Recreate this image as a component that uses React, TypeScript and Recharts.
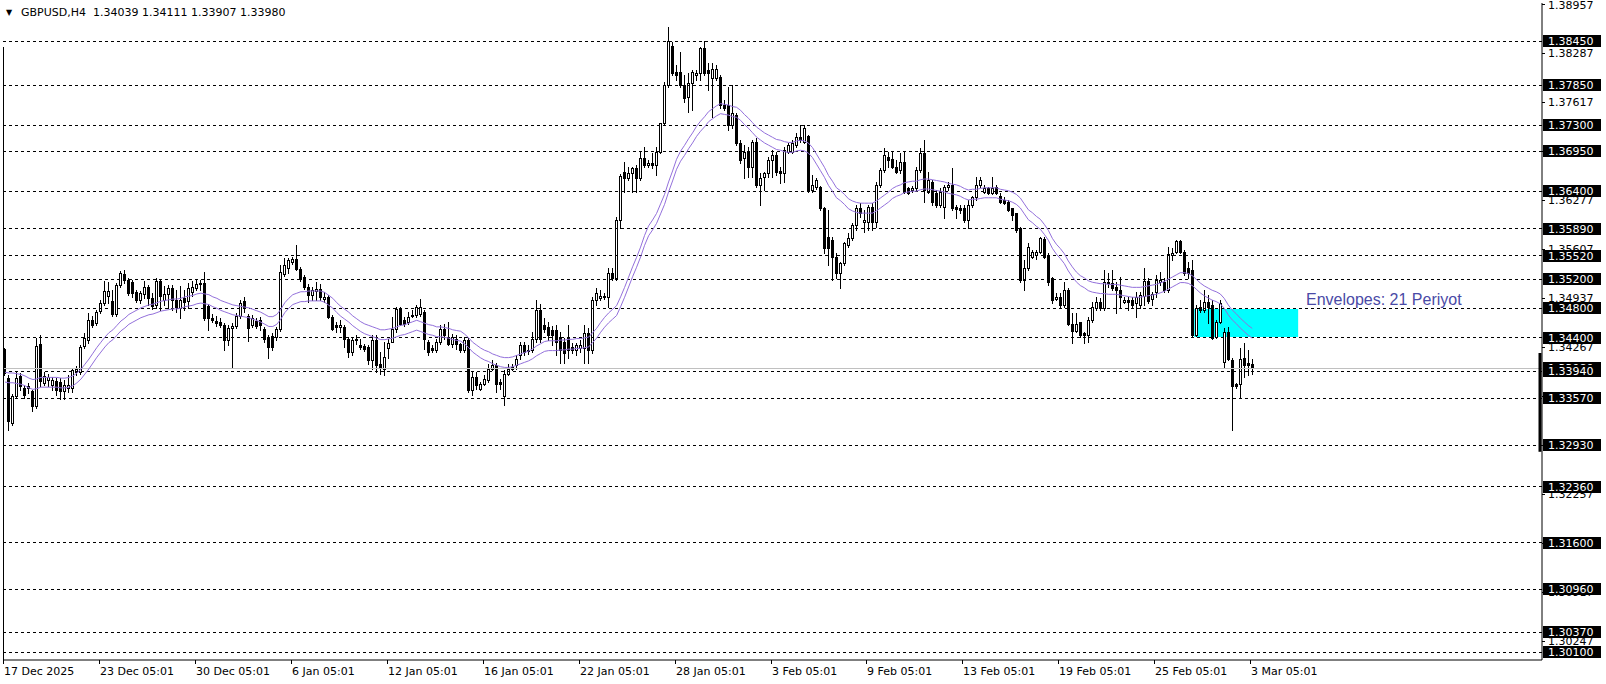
import React from 'react';
import { ComposedChart, Bar, Line, XAxis, YAxis, ReferenceLine, ReferenceArea } from 'recharts';

// ---- GBPUSD H4 candles ----
const opens = [
  1.3424,1.3385,1.3323,1.3360,1.3388,1.3371,1.3371,1.3367,1.3347,1.3431,
  1.3378,1.3382,1.3375,1.3381,1.3379,1.3367,1.3371,1.3371,1.3393,1.3393,
  1.3429,1.3437,1.3464,1.3460,1.3477,1.3487,1.3497,1.3490,1.3473,1.3512,
  1.3527,1.3519,1.3516,1.3502,1.3491,1.3500,1.3509,1.3494,1.3485,1.3517,
  1.3491,1.3500,1.3508,1.3491,1.3481,1.3494,1.3490,1.3502,1.3508,1.3515,
  1.3515,1.3483,1.3467,1.3463,1.3461,1.3457,1.3437,1.3453,1.3456,1.3470,
  1.3490,1.3470,1.3457,1.3463,1.3464,1.3452,1.3441,1.3442,1.3441,1.3452,
  1.3527,1.3535,1.3543,1.3547,1.3534,1.3523,1.3509,1.3498,1.3504,1.3506,
  1.3493,1.3496,1.3468,1.3457,1.3455,1.3455,1.3438,1.3420,1.3438,1.3430,
  1.3429,1.3427,1.3409,1.3437,1.3404,1.3397,1.3426,1.3434,1.3452,1.3479,
  1.3464,1.3461,1.3470,1.3471,1.3473,1.3475,1.3434,1.3426,1.3423,1.3434,
  1.3452,1.3441,1.3431,1.3438,1.3431,1.3423,1.3437,1.3368,1.3386,1.3370,
  1.3377,1.3382,1.3397,1.3403,1.3379,1.3360,1.3390,1.3397,1.3403,1.3416,
  1.3430,1.3423,1.3423,1.3438,1.3478,1.3457,1.3455,1.3450,1.3450,1.3441,
  1.3434,1.3441,1.3427,1.3423,1.3426,1.3426,1.3446,1.3423,1.3491,1.3494,
  1.3497,1.3496,1.3528,1.3522,1.3601,1.3666,1.3658,1.3665,1.3672,1.3658,
  1.3686,1.3676,1.3679,1.3676,1.3694,1.3733,1.3785,1.3838,1.3803,1.3803,
  1.3785,1.3769,1.3788,1.3799,1.3802,1.3836,1.3806,1.3795,1.3795,1.3796,
  1.3758,1.3758,1.3730,1.3744,1.3706,1.3686,1.3694,1.3673,1.3707,1.3649,
  1.3660,1.3665,1.3683,1.3690,1.3668,1.3665,1.3694,1.3694,1.3703,1.3714,
  1.3707,1.3716,1.3642,1.3646,1.3646,1.3617,1.3577,1.3574,1.3550,1.3528,
  1.3542,1.3566,1.3576,1.3594,1.3617,1.3598,1.3598,1.3619,1.3598,1.3649,
  1.3669,1.3687,1.3684,1.3673,1.3669,1.3680,1.3645,1.3642,1.3645,1.3669,
  1.3692,1.3639,1.3653,1.3638,1.3621,1.3619,1.3646,1.3649,1.3619,1.3617,
  1.3617,1.3601,1.3621,1.3632,1.3649,1.3639,1.3645,1.3638,1.3646,1.3634,
  1.3628,1.3626,1.3617,1.3610,1.3590,1.3519,1.3535,1.3550,1.3553,1.3557,
  1.3575,1.3553,1.3522,1.3493,1.3496,1.3485,1.3505,1.3459,1.3449,1.3461,
  1.3446,1.3443,1.3464,1.3481,1.3489,1.3481,1.3515,1.3515,1.3509,1.3505,
  1.3489,1.3491,1.3491,1.3487,1.3485,1.3497,1.3517,1.3493,1.3502,1.3516,
  1.3516,1.3505,1.3553,1.3557,1.3572,1.3557,1.3535,1.3533,1.3443,1.3482,
  1.3478,1.3489,1.3485,1.3441,1.3461,1.3407,1.3448,1.3409,1.3377,1.3377,
  1.3412,1.3405,1.34039,
];
const highs = [
  1.3426,1.3389,1.3363,1.3394,1.3392,1.3375,1.3378,1.3368,1.3439,1.3443,
  1.3393,1.3390,1.3386,1.3385,1.3385,1.3382,1.3389,1.3399,1.3401,1.3430,
  1.3446,1.3474,1.3470,1.3478,1.3491,1.3517,1.3516,1.3505,1.3515,1.3531,
  1.3533,1.3522,1.3519,1.3505,1.3504,1.3517,1.3512,1.3501,1.3522,1.3519,
  1.3510,1.3512,1.3512,1.3505,1.3510,1.3505,1.3515,1.3517,1.3520,1.3519,
  1.3530,1.3486,1.3473,1.3470,1.3467,1.3460,1.3457,1.3460,1.3474,1.3491,
  1.3496,1.3473,1.3471,1.3467,1.3468,1.3455,1.3443,1.3446,1.3455,1.3539,
  1.3549,1.3549,1.3550,1.3566,1.3537,1.3526,1.3513,1.3509,1.3516,1.3513,
  1.3502,1.3498,1.3471,1.3461,1.3464,1.3457,1.3441,1.3441,1.3443,1.3438,
  1.3431,1.3430,1.3443,1.3443,1.3420,1.3434,1.3438,1.3468,1.3482,1.3482,
  1.3468,1.3475,1.3478,1.3485,1.3493,1.3478,1.3437,1.3430,1.3438,1.3457,
  1.3459,1.3461,1.3445,1.3443,1.3433,1.3441,1.3439,1.3393,1.3393,1.3379,
  1.3389,1.3404,1.3409,1.3405,1.3383,1.3396,1.3404,1.3404,1.3416,1.3434,
  1.3434,1.3430,1.3448,1.3491,1.3486,1.3467,1.3461,1.3456,1.3457,1.3448,
  1.3439,1.3457,1.3433,1.3433,1.3437,1.3457,1.3453,1.3496,1.3508,1.3505,
  1.3501,1.3535,1.3535,1.3605,1.3663,1.3680,1.3673,1.3673,1.3676,1.3694,
  1.3701,1.3683,1.3692,1.3701,1.3734,1.3789,1.3865,1.3844,1.3812,1.3830,
  1.3799,1.3802,1.3806,1.3806,1.3837,1.3845,1.3815,1.3815,1.3812,1.3799,
  1.3765,1.3782,1.3785,1.3747,1.3710,1.3703,1.3701,1.3710,1.3713,1.3665,
  1.3666,1.3687,1.3696,1.3694,1.3673,1.3701,1.3706,1.3710,1.3720,1.3730,
  1.3730,1.3717,1.3662,1.3658,1.3647,1.3619,1.3615,1.3577,1.3556,1.3543,
  1.3571,1.3583,1.3597,1.3621,1.3624,1.3615,1.3621,1.3624,1.3653,1.3672,
  1.3699,1.3694,1.3694,1.3683,1.3692,1.3694,1.3646,1.3647,1.3673,1.3699,
  1.3710,1.3666,1.3656,1.3642,1.3645,1.3649,1.3653,1.3672,1.3621,1.3621,
  1.3621,1.3628,1.3633,1.3660,1.3660,1.3649,1.3646,1.3660,1.3649,1.3638,
  1.3632,1.3628,1.3617,1.3610,1.3591,1.3546,1.3569,1.3560,1.3560,1.3577,
  1.3577,1.3556,1.3523,1.3501,1.3501,1.3516,1.3508,1.3474,1.3474,1.3461,
  1.3448,1.3468,1.3489,1.3496,1.3494,1.3533,1.3528,1.3533,1.3516,1.3523,
  1.3496,1.3496,1.3496,1.3502,1.3502,1.3535,1.3522,1.3502,1.3526,1.3530,
  1.3522,1.3564,1.3562,1.3574,1.3574,1.3560,1.3543,1.3546,1.3485,1.3491,
  1.3505,1.3498,1.3491,1.3464,1.3491,1.3453,1.3455,1.3412,1.3378,1.3426,
  1.3433,1.3423,1.34111,
];
const lows = [
  1.3389,1.3314,1.3321,1.3359,1.3368,1.3358,1.3364,1.3340,1.3344,1.3374,
  1.3375,1.3374,1.3368,1.3362,1.3356,1.3356,1.3366,1.3366,1.3389,1.3390,
  1.3426,1.3433,1.3455,1.3457,1.3474,1.3485,1.3487,1.3470,1.3470,1.3509,
  1.3515,1.3498,1.3496,1.3489,1.3487,1.3494,1.3485,1.3479,1.3481,1.3478,
  1.3485,1.3481,1.3478,1.3475,1.3467,1.3478,1.3481,1.3497,1.3505,1.3505,
  1.3464,1.3450,1.3461,1.3456,1.3455,1.3423,1.3430,1.3400,1.3453,1.3467,
  1.3475,1.3435,1.3455,1.3453,1.3450,1.3434,1.3412,1.3423,1.3437,1.3449,
  1.3524,1.3528,1.3541,1.3533,1.3517,1.3506,1.3489,1.3491,1.3491,1.3491,
  1.3489,1.3467,1.3450,1.3448,1.3448,1.3427,1.3413,1.3416,1.3431,1.3424,
  1.3422,1.3404,1.3397,1.3393,1.3390,1.3389,1.3412,1.3434,1.3448,1.3457,
  1.3456,1.3459,1.3468,1.3468,1.3470,1.3424,1.3416,1.3420,1.3420,1.3431,
  1.3438,1.3430,1.3427,1.3424,1.3420,1.3420,1.3366,1.3362,1.3370,1.3368,
  1.3375,1.3379,1.3396,1.3366,1.3370,1.3348,1.3389,1.3396,1.3397,1.3411,
  1.3416,1.3418,1.3420,1.3434,1.3434,1.3448,1.3437,1.3430,1.3416,1.3405,
  1.3405,1.3412,1.3419,1.3416,1.3420,1.3405,1.3405,1.3419,1.3485,1.3491,
  1.3493,1.3482,1.3519,1.3519,1.3590,1.3639,1.3656,1.3639,1.3639,1.3656,
  1.3673,1.3673,1.3672,1.3662,1.3693,1.3730,1.3782,1.3799,1.3792,1.3782,
  1.3762,1.3748,1.3751,1.3792,1.3792,1.3799,1.3778,1.3742,1.3792,1.3754,
  1.3751,1.3724,1.3727,1.3703,1.3679,1.3658,1.3660,1.3660,1.3646,1.3621,
  1.3642,1.3660,1.3660,1.3662,1.3651,1.3653,1.3692,1.3692,1.3701,1.3707,
  1.3706,1.3639,1.3639,1.3643,1.3615,1.3556,1.3539,1.3519,1.3522,1.3508,
  1.3539,1.3564,1.3574,1.3587,1.3605,1.3584,1.3587,1.3587,1.3591,1.3646,
  1.3666,1.3673,1.3672,1.3665,1.3665,1.3638,1.3636,1.3639,1.3642,1.3666,
  1.3626,1.3638,1.3621,1.3619,1.3619,1.3603,1.3642,1.3615,1.3603,1.3610,
  1.3598,1.3590,1.3619,1.3628,1.3646,1.3638,1.3636,1.3636,1.3636,1.3624,
  1.3623,1.3613,1.3601,1.3584,1.3516,1.3505,1.3533,1.3549,1.3547,1.3556,
  1.3549,1.3512,1.3487,1.3491,1.3482,1.3482,1.3457,1.3433,1.3448,1.3441,
  1.3433,1.3434,1.3461,1.3478,1.3478,1.3478,1.3509,1.3505,1.3474,1.3482,
  1.3487,1.3478,1.3481,1.3468,1.3481,1.3485,1.3487,1.3485,1.3496,1.3512,
  1.3502,1.3502,1.3546,1.3556,1.3556,1.3526,1.3522,1.3442,1.3442,1.3475,
  1.3475,1.3460,1.3438,1.3439,1.3460,1.3399,1.3409,1.3314,1.3371,1.3359,
  1.3386,1.3389,1.33907,
];
const closes = [
  1.3392,1.3326,1.3360,1.3385,1.3374,1.3362,1.3374,1.3347,1.3429,1.3381,
  1.3388,1.3386,1.3382,1.3368,1.3367,1.3375,1.3375,1.3396,1.3397,1.3427,
  1.3439,1.3464,1.3457,1.3475,1.3487,1.3504,1.3504,1.3473,1.3512,1.3528,
  1.3519,1.3501,1.3501,1.3491,1.3501,1.3509,1.3494,1.3483,1.3517,1.3497,
  1.3500,1.3508,1.3491,1.3482,1.3491,1.3489,1.3508,1.3509,1.3513,1.3513,
  1.3467,1.3467,1.3464,1.3460,1.3457,1.3437,1.3453,1.3456,1.3470,1.3487,
  1.3481,1.3453,1.3467,1.3456,1.3457,1.3438,1.3427,1.3427,1.3452,1.3530,
  1.3539,1.3546,1.3547,1.3534,1.3520,1.3509,1.3498,1.3505,1.3506,1.3496,
  1.3496,1.3468,1.3452,1.3455,1.3457,1.3438,1.3420,1.3437,1.3437,1.3427,
  1.3424,1.3409,1.3437,1.3403,1.3400,1.3413,1.3433,1.3452,1.3479,1.3459,
  1.3459,1.3468,1.3471,1.3482,1.3482,1.3438,1.3420,1.3423,1.3434,1.3452,
  1.3443,1.3431,1.3441,1.3431,1.3423,1.3437,1.3368,1.3386,1.3375,1.3377,
  1.3383,1.3397,1.3403,1.3377,1.3377,1.3390,1.3397,1.3400,1.3411,1.3430,
  1.3420,1.3422,1.3438,1.3478,1.3438,1.3452,1.3443,1.3443,1.3434,1.3423,
  1.3419,1.3423,1.3423,1.3430,1.3430,1.3446,1.3423,1.3491,1.3501,1.3497,
  1.3496,1.3528,1.3522,1.3601,1.3661,1.3658,1.3665,1.3672,1.3658,1.3686,
  1.3676,1.3679,1.3676,1.3694,1.3733,1.3785,1.3845,1.3802,1.3799,1.3785,
  1.3767,1.3788,1.3803,1.3802,1.3836,1.3802,1.3802,1.3807,1.3807,1.3758,
  1.3754,1.3730,1.3747,1.3706,1.3683,1.3694,1.3673,1.3707,1.3649,1.3658,
  1.3665,1.3683,1.3690,1.3666,1.3665,1.3696,1.3703,1.3706,1.3714,1.3710,
  1.3727,1.3642,1.3649,1.3656,1.3617,1.3562,1.3562,1.3550,1.3528,1.3542,
  1.3569,1.3576,1.3594,1.3617,1.3610,1.3601,1.3619,1.3598,1.3649,1.3669,
  1.3690,1.3683,1.3673,1.3666,1.3680,1.3639,1.3638,1.3645,1.3669,1.3692,
  1.3642,1.3656,1.3626,1.3621,1.3639,1.3646,1.3649,1.3617,1.3616,1.3615,
  1.3601,1.3621,1.3632,1.3649,1.3656,1.3645,1.3638,1.3645,1.3638,1.3626,
  1.3624,1.3615,1.3608,1.3587,1.3519,1.3535,1.3564,1.3557,1.3557,1.3576,
  1.3550,1.3516,1.3491,1.3496,1.3485,1.3505,1.3459,1.3449,1.3459,1.3443,
  1.3443,1.3464,1.3482,1.3489,1.3481,1.3516,1.3516,1.3508,1.3505,1.3496,
  1.3491,1.3489,1.3485,1.3496,1.3498,1.3517,1.3490,1.3500,1.3519,1.3519,
  1.3505,1.3554,1.3556,1.3572,1.3557,1.3528,1.3528,1.3443,1.3481,1.3478,
  1.3489,1.3482,1.3439,1.3461,1.3487,1.3448,1.3411,1.3374,1.3374,1.3411,
  1.3403,1.3403,1.3398,
];
// Envelopes(21) middle line as drawn, and its deviation (0.05 %)
const envelopeMid = [
  1.3386,1.3385,1.3385,1.3384,1.3383,1.3381,1.3378,1.3376,1.3377,1.3379,
  1.3379,1.3379,1.3379,1.3379,1.3378,1.3378,1.3379,1.3381,1.3385,1.3390,
  1.3397,1.3404,1.3412,1.3420,1.3427,1.3434,1.3440,1.3444,1.3450,1.3456,
  1.3460,1.3465,1.3468,1.3471,1.3474,1.3476,1.3478,1.3479,1.3481,1.3483,
  1.3484,1.3485,1.3486,1.3486,1.3487,1.3489,1.3490,1.3491,1.3493,1.3494,
  1.3493,1.3492,1.3489,1.3487,1.3484,1.3482,1.3480,1.3478,1.3477,1.3476,
  1.3475,1.3474,1.3472,1.3470,1.3468,1.3465,1.3462,1.3462,1.3465,1.3472,
  1.3481,1.3487,1.3492,1.3494,1.3496,1.3496,1.3497,1.3497,1.3497,1.3497,
  1.3495,1.3491,1.3487,1.3481,1.3476,1.3472,1.3468,1.3463,1.3459,1.3455,
  1.3452,1.3450,1.3448,1.3446,1.3444,1.3444,1.3445,1.3446,1.3448,1.3450,
  1.3451,1.3453,1.3455,1.3457,1.3455,1.3453,1.3451,1.3450,1.3448,1.3448,
  1.3447,1.3446,1.3444,1.3443,1.3442,1.3438,1.3433,1.3427,1.3423,1.3419,
  1.3416,1.3414,1.3411,1.3409,1.3407,1.3406,1.3406,1.3407,1.3409,1.3411,
  1.3413,1.3415,1.3418,1.3422,1.3425,1.3428,1.3429,1.3429,1.3429,1.3430,
  1.3430,1.3431,1.3431,1.3432,1.3432,1.3433,1.3434,1.3440,1.3446,1.3454,
  1.3461,1.3467,1.3472,1.3477,1.3489,1.3502,1.3516,1.3530,1.3543,1.3557,
  1.3573,1.3586,1.3594,1.3603,1.3616,1.3629,1.3646,1.3661,1.3677,1.3688,
  1.3696,1.3705,1.3713,1.3722,1.3729,1.3735,1.3742,1.3746,1.3750,1.3753,
  1.3752,1.3751,1.3749,1.3748,1.3744,1.3738,1.3733,1.3727,1.3721,1.3717,
  1.3713,1.3710,1.3707,1.3704,1.3703,1.3701,1.3700,1.3700,1.3702,1.3703,
  1.3702,1.3699,1.3693,1.3684,1.3675,1.3666,1.3655,1.3647,1.3638,1.3634,
  1.3629,1.3623,1.3620,1.3618,1.3617,1.3617,1.3617,1.3617,1.3620,1.3624,
  1.3628,1.3632,1.3637,1.3640,1.3642,1.3645,1.3646,1.3647,1.3647,1.3649,
  1.3650,1.3650,1.3649,1.3648,1.3647,1.3646,1.3644,1.3643,1.3642,1.3640,
  1.3637,1.3635,1.3636,1.3636,1.3637,1.3638,1.3638,1.3638,1.3638,1.3636,
  1.3635,1.3634,1.3632,1.3629,1.3624,1.3616,1.3608,1.3604,1.3599,1.3595,
  1.3588,1.3580,1.3569,1.3561,1.3555,1.3548,1.3538,1.3530,1.3523,1.3518,
  1.3515,1.3511,1.3509,1.3508,1.3507,1.3507,1.3506,1.3506,1.3506,1.3505,
  1.3504,1.3503,1.3502,1.3502,1.3502,1.3503,1.3504,1.3505,1.3506,1.3508,
  1.3510,1.3513,1.3516,1.3519,1.3522,1.3522,1.3521,1.3518,1.3513,1.3508,
  1.3504,1.3501,1.3498,1.3496,1.3493,1.3487,1.3478,1.3471,1.3466,1.3460,
  1.3455,1.3450,1.3446,
];
const ENVELOPE_DEVIATION = 0.0005;

// time axis
const TOTAL_SLOTS = 385; // visible bar slots incl. empty right margin
const timeTickIndex = [0, 24, 48, 72, 96, 120, 144, 168, 192, 216, 240, 264, 288, 312];
const timeTickLabels = [
  '17 Dec 2025', '23 Dec 05:01', '30 Dec 05:01', '6 Jan 05:01', '12 Jan 05:01', '16 Jan 05:01',
  '22 Jan 05:01', '28 Jan 05:01', '3 Feb 05:01', '9 Feb 05:01', '13 Feb 05:01', '19 Feb 05:01',
  '25 Feb 05:01', '3 Mar 05:01',
];

// price axis
const priceScaleTicks = [
  1.38957, 1.38287, 1.37617, 1.36947, 1.36277, 1.35607, 1.34937,
  1.34267, 1.33597, 1.32927, 1.32257, 1.31587, 1.30917, 1.30247,
];
const levelPrices = [
  1.3845, 1.3785, 1.373, 1.3695, 1.364, 1.3589, 1.3552, 1.352, 1.348,
  1.344, 1.3394, 1.3357, 1.3293, 1.3236, 1.316, 1.3096, 1.3037, 1.301,
];
const BID_PRICE = 1.3398;
const PRICE_DOMAIN: [number, number] = [1.29994, 1.38974];
const zoneTop = 1.3479;
const zoneBottom = 1.3441;
const zoneFromBar = 298;
const zoneToBar = 323;
const axisMarkTop = 1.3419;
const axisMarkBottom = 1.3284;
const leftFrameTop = 1.3837;

const header = { symbol: 'GBPUSD,H4', ohlc: '1.34039 1.34111 1.33907 1.33980' };
const envelopeLabel = 'Envelopes: 21 Periyot';

const FONT = '"DejaVu Sans", Verdana, sans-serif';

const rows = Array.from({ length: TOTAL_SLOTS }, (_, i) =>
  i < opens.length
    ? { i, o: opens[i], h: highs[i], l: lows[i], c: closes[i], mid: envelopeMid[i] }
    : { i }
);

const levelSet = new Set(levelPrices);

function Candle(props: any) {
  const { x, y, width, height, payload } = props;
  if (!payload || payload.o == null) return null;
  const { o, h, l, c } = payload;
  const top = Math.min(y, y + height);
  const bottom = Math.max(y, y + height);
  const span = h - l;
  const py = (v: number) => (span > 0 ? top + ((h - v) / span) * (bottom - top) : top);
  const cx = Math.floor(x + width / 2) + 0.5;
  const yH = Math.round(py(h));
  const yL = Math.round(py(l));
  const yO = Math.round(py(o));
  const yC = Math.round(py(c));
  const bTop = Math.min(yO, yC);
  const bBot = Math.max(yO, yC);
  let body: React.ReactNode;
  if (bBot - bTop < 1) {
    body = <line x1={cx - 1.5} x2={cx + 1.5} y1={bTop + 0.5} y2={bTop + 0.5} stroke="#000" strokeWidth={1} />;
  } else if (c > o) {
    body = <rect x={cx - 1} y={bTop + 0.5} width={2} height={bBot - bTop} fill="#fff" stroke="#000" strokeWidth={1} />;
  } else {
    body = <rect x={cx - 1.5} y={bTop} width={3} height={bBot - bTop + 1} fill="#000" />;
  }
  return (
    <g>
      <line x1={cx} x2={cx} y1={yH} y2={yL + 1} stroke="#000" strokeWidth={1} />
      {body}
    </g>
  );
}

function TimeTick(props: any) {
  const { x, y, payload } = props;
  const idx = timeTickIndex.indexOf(payload.value);
  if (idx < 0) return null;
  const tx = Math.round(x - 2) + 0.5;
  return (
    <g>
      <line x1={tx} x2={tx} y1={y} y2={y + 4} stroke="#000" strokeWidth={1} />
      <text x={tx + 0.5} y={y + 15} fontFamily={FONT} fontSize={11} fill="#000" textAnchor="start">
        {timeTickLabels[idx]}
      </text>
    </g>
  );
}

function PriceTick(props: any) {
  const { x, y, payload } = props;
  const v: number = payload.value;
  const ty = Math.round(y);
  const label = v.toFixed(5);
  if (levelSet.has(v) || v === BID_PRICE) {
    return (
      <g>
        <rect x={x + 1} y={ty - 6} width={58} height={12} fill="#000" />
        <text x={x + 6} y={ty} dy="0.36em" fontFamily={FONT} fontSize={11} fill="#fff">
          {label}
        </text>
      </g>
    );
  }
  return (
    <g>
      <line x1={x} x2={x + 3} y1={ty + 0.5} y2={ty + 0.5} stroke="#000" strokeWidth={1} />
      <text x={x + 6} y={Math.max(ty, 5)} dy="0.36em" fontFamily={FONT} fontSize={11} fill="#000">
        {label}
      </text>
    </g>
  );
}

export default function App() {
  return (
    <div style={{ position: 'fixed', left: 0, top: 0, width: 1606, height: 684, background: '#fff', overflow: 'hidden' }}>
      <ComposedChart
        width={1606}
        height={684}
        data={rows}
        margin={{ top: 3, right: 0, bottom: 0, left: 3 }}
      >
        <XAxis
          dataKey="i"
          type="category"
          ticks={timeTickIndex}
          interval={0}
          tick={<TimeTick />}
          tickLine={false}
          tickSize={0}
          tickMargin={0}
          height={24}
          axisLine={{ stroke: '#000' }}
        />
        <YAxis
          orientation="right"
          type="number"
          domain={PRICE_DOMAIN}
          allowDataOverflow
          width={64}
          ticks={[...priceScaleTicks, BID_PRICE, ...levelPrices]}
          interval={0}
          tick={<PriceTick />}
          tickLine={false}
          tickSize={0}
          tickMargin={0}
          axisLine={{ stroke: '#000' }}
        />
        <ReferenceArea
          x1={zoneFromBar}
          x2={zoneToBar}
          y1={zoneBottom}
          y2={zoneTop}
          fill="#00ffff"
          fillOpacity={1}
          stroke="none"
          ifOverflow="visible"
        />
        {levelPrices.map((p) => (
          <ReferenceLine key={p} y={p} stroke="#000" strokeWidth={1} strokeDasharray="3 3" shapeRendering="crispEdges" />
        ))}
        <ReferenceLine y={BID_PRICE} stroke="#c0c0c0" strokeWidth={1} shapeRendering="crispEdges" />
        <ReferenceLine
          segment={[{ x: 0, y: leftFrameTop }, { x: 0, y: PRICE_DOMAIN[0] }]}
          position="start"
          stroke="#000"
          strokeWidth={1}
          ifOverflow="visible"
          shapeRendering="crispEdges"
        />
        <ReferenceLine
          segment={[{ x: TOTAL_SLOTS - 1, y: axisMarkTop }, { x: TOTAL_SLOTS - 1, y: axisMarkBottom }]}
          stroke="#000"
          strokeWidth={3}
          ifOverflow="visible"
        />
        <Bar
          dataKey={(d: any) => (d.o == null ? null : [d.l, d.h])}
          shape={(p: any) => <Candle {...p} />}
          isAnimationActive={false}
        />
        <Line
          dataKey={(d: any) => (d.mid == null ? null : d.mid * (1 + ENVELOPE_DEVIATION))}
          stroke="#9370DB"
          strokeWidth={1}
          dot={false}
          activeDot={false}
          type="linear"
          isAnimationActive={false}
        />
        <Line
          dataKey={(d: any) => (d.mid == null ? null : d.mid * (1 - ENVELOPE_DEVIATION))}
          stroke="#9370DB"
          strokeWidth={1}
          dot={false}
          activeDot={false}
          type="linear"
          isAnimationActive={false}
        />
      </ComposedChart>
      <div style={{ position: 'absolute', left: 6, top: 6, fontFamily: FONT, fontSize: 8, lineHeight: '13px', color: '#000' }}>▼</div>
      <div style={{ position: 'absolute', left: 21, top: 6, fontFamily: FONT, fontSize: 11, lineHeight: '13px', color: '#000', whiteSpace: 'pre' }}>
        {header.symbol + '  ' + header.ohlc}
      </div>
      <div style={{ position: 'absolute', left: 1306, top: 291, fontFamily: '"Liberation Sans", Arial, sans-serif', fontSize: 16, lineHeight: '18px', color: '#4a4aa6', whiteSpace: 'pre' }}>
        {envelopeLabel}
      </div>
    </div>
  );
}
